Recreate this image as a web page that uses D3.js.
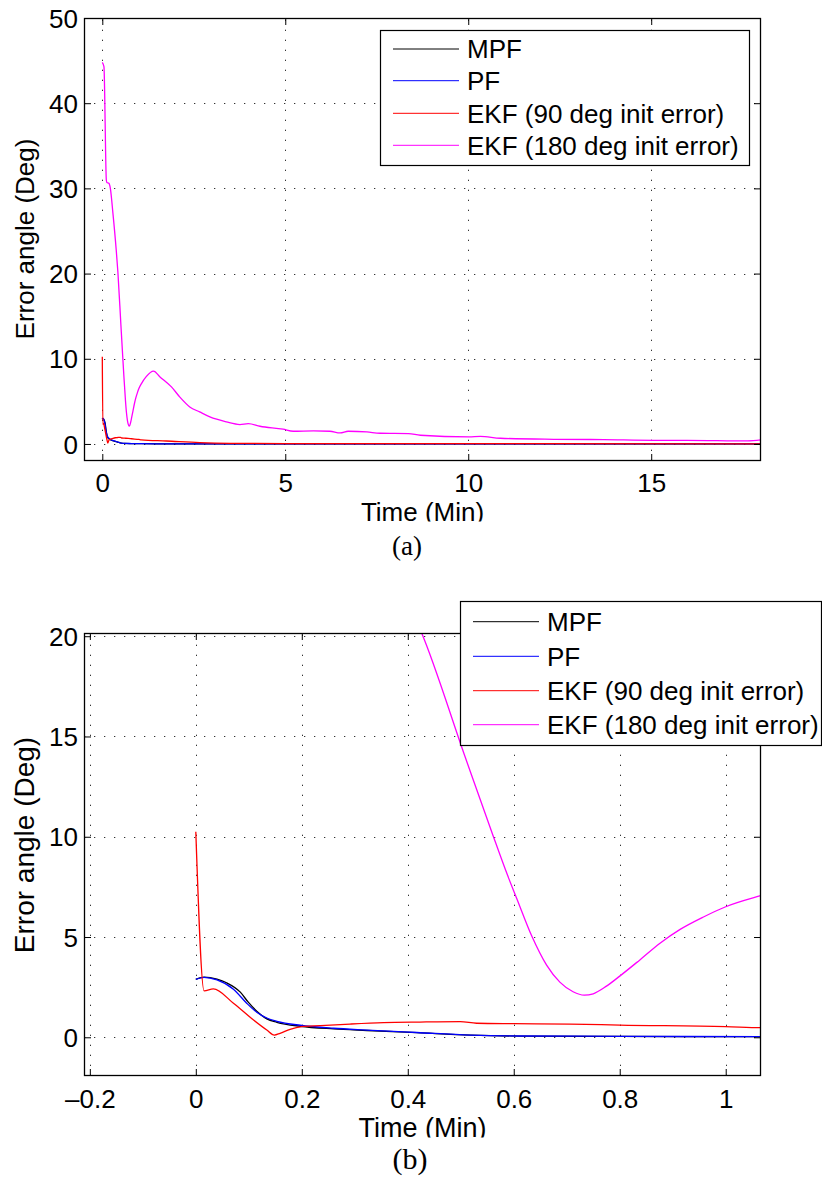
<!DOCTYPE html>
<html><head><meta charset="utf-8">
<script src="https://cdn.jsdelivr.net/npm/d3@7"></script>
<style>body{margin:0;background:#fff} svg{display:block}</style>
</head><body>
<svg id="chart" width="822" height="1180"></svg>
<script>
// ---------- data ----------
const seriesNames = ["MPF", "PF", "EKF (90 deg init error)", "EKF (180 deg init error)"];

const mpfTime  = [0, 0.0157, 0.04, 0.058, 0.084, 0.099, 0.115, 0.134, 0.153, 0.197, 0.26, 0.323, 0.417, 0.518, 0.612, 0.8, 1.066, 1.5, 3, 18];
const mpfError = [2.89, 3.0, 2.9, 2.72, 2.25, 1.75, 1.30, 0.92, 0.75, 0.55, 0.42, 0.34, 0.23, 0.11, 0.06, 0.045, 0.03, 0.02, 0.015, 0.01];

const pfTime  = [0, 0.0157, 0.04, 0.071, 0.096, 0.115, 0.135, 0.153, 0.197, 0.26, 0.323, 0.417, 0.518, 0.612, 0.8, 1.066, 1.5, 3, 18];
const pfError = [2.89, 2.99, 2.86, 2.40, 1.70, 1.25, 0.95, 0.80, 0.60, 0.45, 0.36, 0.24, 0.11, 0.065, 0.05, 0.03, 0.02, 0.015, 0.01];

const ekf90Time  = [0, 0.0157, 0.033, 0.071, 0.109, 0.134, 0.148, 0.159, 0.178, 0.2, 0.234, 0.291, 0.354, 0.423, 0.499, 0.53, 0.6, 0.706, 0.8, 1.0, 1.066, 1.75, 2.66, 3.5, 5, 8, 12, 18];
const ekf90Error = [10.25, 2.31, 2.41, 1.70, 0.86, 0.36, 0.11, 0.2, 0.4, 0.53, 0.58, 0.66, 0.73, 0.76, 0.78, 0.70, 0.68, 0.66, 0.61, 0.53, 0.48, 0.35, 0.16, 0.08, 0.05, 0.04, 0.03, 0.02];

const ekf180Time  = [0, 0.045, 0.11, 0.125, 0.18, 0.22, 0.29, 0.38, 0.4264, 0.508, 0.559, 0.588, 0.606, 0.634, 0.662, 0.687, 0.712, 0.733, 0.75, 0.775, 0.80, 0.838, 0.876, 0.914, 0.958, 1.0, 1.066, 1.2, 1.40, 1.57, 1.89, 2.12, 2.39, 2.66, 2.94, 3.39, 3.76, 3.99, 4.31, 4.94, 5.22, 5.77, 6.22, 6.5, 6.72, 7.23, 7.59, 8.37, 8.69, 10.02, 10.33, 10.88, 12.34, 13.7, 15.07, 15.98, 17.63, 18.0];
const ekf180Error = [44.8, 44.3, 31.0, 30.7, 30.6, 30.0, 27.1, 22.8, 20.15, 14.0, 10.2, 8.1, 6.9, 5.05, 3.6, 2.75, 2.27, 2.1, 2.17, 2.55, 3.05, 3.86, 4.69, 5.38, 6.0, 6.51, 7.06, 7.9, 8.54, 7.9, 6.7, 5.5, 4.35, 3.76, 3.17, 2.59, 2.28, 2.39, 2.08, 1.73, 1.49, 1.53, 1.49, 1.29, 1.49, 1.41, 1.26, 1.22, 1.02, 0.83, 0.9, 0.67, 0.55, 0.51, 0.43, 0.43, 0.36, 0.47];

const topXTicks = [0, 5, 10, 15];
const topYTicks = [0, 10, 20, 30, 40, 50];
const bottomXTicks = [-0.2, 0, 0.2, 0.4, 0.6, 0.8, 1];
const bottomYTicks = [0, 5, 10, 15, 20];

const xLabelText = "Time (Min)";
const yLabelText = "Error angle (Deg)";

const seriesColors = ["#000000", "#0000ff", "#ff0000", "#ff00ff"];

const series = [
  {name: seriesNames[0], t: mpfTime, v: mpfError, color: seriesColors[0]},
  {name: seriesNames[1], t: pfTime, v: pfError, color: seriesColors[1]},
  {name: seriesNames[2], t: ekf90Time, v: ekf90Error, color: seriesColors[2]},
  {name: seriesNames[3], t: ekf180Time, v: ekf180Error, color: seriesColors[3]}
];

// ---------- drawing ----------
const svg = d3.select("#chart");
svg.append("rect").attr("width", 822).attr("height", 1180).attr("fill", "#fff");
const FONT = "'Liberation Sans', Arial, Helvetica, sans-serif";
const fmt = d => d < 0 ? "\u2013" + Math.abs(d) : String(d);

function panel(c, id) {
  const x = d3.scaleLinear().domain(c.xDomain).range([c.x0, c.x1]);
  const y = d3.scaleLinear().domain(c.yDomain).range([c.y1, c.y0]);
  const g = svg.append("g");

  svg.append("clipPath").attr("id", "clip" + id)
    .append("rect").attr("x", c.x0).attr("y", c.y0).attr("width", c.x1 - c.x0).attr("height", c.y1 - c.y0);
  svg.append("clipPath").attr("id", "lclip" + id)
    .append("rect").attr("x", 0).attr("y", c.y1).attr("width", 822).attr("height", c.xLabelClip - c.y1);

  // grid
  const grid = g.append("g").attr("stroke", "#333").attr("stroke-width", 1).attr("stroke-dasharray", "1.3,8.7");
  grid.selectAll(".vg").data(c.xTicks).enter().append("line")
    .attr("x1", d => Math.round(x(d)) + 0.5).attr("x2", d => Math.round(x(d)) + 0.5)
    .attr("y1", c.y1).attr("y2", c.y0);
  grid.selectAll(".hg").data(c.yTicks).enter().append("line")
    .attr("y1", d => Math.round(y(d)) + 0.5).attr("y2", d => Math.round(y(d)) + 0.5)
    .attr("x1", c.x0).attr("x2", c.x1);

  // data lines
  const line = d3.line().curve(d3.curveMonotoneX).x(d => x(d[0])).y(d => y(d[1]));
  const lg = g.append("g").attr("clip-path", `url(#clip${id})`);
  series.forEach(s => {
    lg.append("path").datum(s.t.map((t, i) => [t, s.v[i]]))
      .attr("d", line).attr("fill", "none").attr("stroke", s.color)
      .attr("stroke-width", c.lw).attr("stroke-linejoin", "round");
  });

  // axes (ticks inside)
  const tk = 7;
  const ax = (gen, tr) => {
    const a = g.append("g").attr("transform", tr).call(gen);
    a.select(".domain").remove();
    a.selectAll("line").attr("stroke", "#000");
    a.selectAll("text").attr("font-family", FONT).attr("font-size", c.tickFont).attr("fill", "#000");
    return a;
  };
  ax(d3.axisLeft(y).tickValues(c.yTicks).tickSizeInner(-tk).tickSizeOuter(0).tickPadding(6).tickFormat(fmt), `translate(${c.x0},0)`)
    .selectAll("text").attr("dy", "0.35em");
  ax(d3.axisRight(y).tickValues(c.yTicks).tickSizeInner(-tk).tickSizeOuter(0).tickFormat(""), `translate(${c.x1},0)`);
  const bx = ax(d3.axisBottom(x).tickValues(c.xTicks).tickSizeInner(-tk).tickSizeOuter(0).tickFormat(fmt), `translate(0,${c.y1})`);
  bx.selectAll("text").attr("y", c.xTickBaseline - c.y1).attr("dy", 0);
  ax(d3.axisTop(x).tickValues(c.xTicks).tickSizeInner(-tk).tickSizeOuter(0).tickFormat(""), `translate(0,${c.y0})`);

  // box
  g.append("rect").attr("x", c.x0 + 0.5).attr("y", c.y0 + 0.5)
    .attr("width", c.x1 - c.x0 - 1).attr("height", c.y1 - c.y0 - 1)
    .attr("fill", "none").attr("stroke", "#000").attr("stroke-width", 1.3);

  // axis labels
  g.append("text").attr("clip-path", `url(#lclip${id})`)
    .attr("x", (c.x0 + c.x1) / 2).attr("y", c.xLabelBaseline)
    .attr("text-anchor", "middle").attr("font-family", FONT).attr("font-size", c.xLabelFont)
    .text(xLabelText);
  g.append("text")
    .attr("transform", `translate(${c.yLabelX},${c.yLabelY}) rotate(-90)`)
    .attr("text-anchor", "middle").attr("font-family", FONT).attr("font-size", c.yLabelFont)
    .text(yLabelText);

  // legend
  const L = c.legend;
  const leg = g.append("g");
  leg.append("rect").attr("x", L.x0 + 0.5).attr("y", L.y0 + 0.5)
    .attr("width", L.x1 - L.x0).attr("height", L.y1 - L.y0)
    .attr("fill", "#fff").attr("stroke", "#000").attr("stroke-width", 1.2);
  series.forEach((s, i) => {
    leg.append("line").attr("x1", L.lx0).attr("x2", L.lx1)
      .attr("y1", L.rows[i]).attr("y2", L.rows[i]).attr("stroke", s.color).attr("stroke-width", 1);
    leg.append("text").attr("x", L.tx).attr("y", L.rows[i] + 0.36 * L.font)
      .attr("font-family", FONT).attr("font-size", L.font).text(s.name);
  });

  // caption
  g.append("text").attr("x", c.capX).attr("y", c.capY).attr("text-anchor", "middle")
    .attr("font-family", "'Liberation Serif', 'Times New Roman', serif").attr("font-size", c.capFont)
    .text(c.caption);
}

panel({
  x0: 84, y0: 18, x1: 761, y1: 461,
  xDomain: [-0.5, 18], yDomain: [-2, 50],
  xTicks: topXTicks, yTicks: topYTicks,
  tickFont: 26, xTickBaseline: 492,
  xLabelFont: 26, xLabelBaseline: 521, xLabelClip: 521.5,
  yLabelFont: 26, yLabelX: 33.5, yLabelY: 239,
  lw: 1.3,
  legend: {x0: 380, y0: 30, x1: 749, y1: 165, lx0: 393, lx1: 459, tx: 467, rows: [49, 80.7, 113.3, 145.3], font: 26},
  caption: "(a)", capX: 407, capY: 555, capFont: 27
}, "a");

panel({
  x0: 84, y0: 633, x1: 761, y1: 1076,
  xDomain: [-0.211, 1.0666], yDomain: [-1.93, 20.16],
  xTicks: bottomXTicks, yTicks: bottomYTicks,
  tickFont: 26, xTickBaseline: 1107.5,
  xLabelFont: 27, xLabelBaseline: 1137, xLabelClip: 1137.5,
  yLabelFont: 28, yLabelX: 33.5, yLabelY: 845,
  lw: 1.3,
  legend: {x0: 460, y0: 601, x1: 821, y1: 745, lx0: 473, lx1: 539, tx: 547, rows: [621.7, 656.3, 690.7, 724.7], font: 26},
  caption: "(b)", capX: 410, capY: 1169, capFont: 30
}, "b");
</script>
</body></html>
